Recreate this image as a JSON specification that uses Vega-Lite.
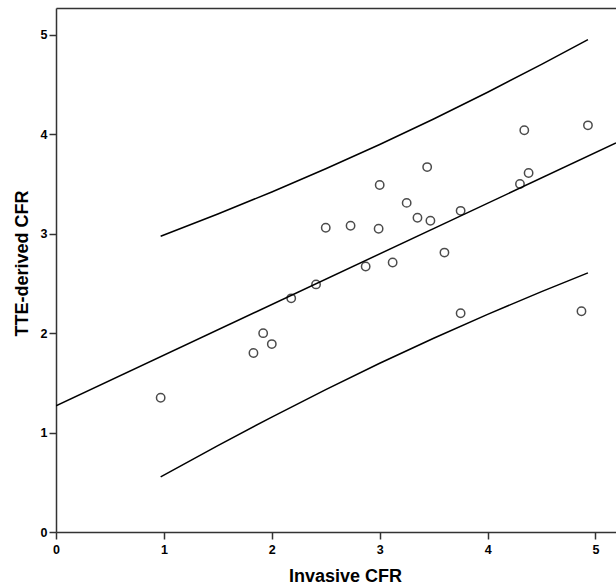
{
  "$schema": "https://vega.github.io/schema/vega-lite/v6.json",
  "width": 560,
  "height": 524,
  "autosize": {"type": "none"},
  "padding": {"left": 56, "top": 8, "right": 0, "bottom": 55},
  "background": "white",
  "config": {
    "view": {"stroke": null},
    "font": "Liberation Sans",
    "axis": {
      "grid": false,
      "domainColor": "#333333",
      "domainWidth": 1.5,
      "tickColor": "#333333",
      "tickWidth": 1.5,
      "tickSize": 7,
      "labelFont": "Liberation Sans",
      "labelFontWeight": "bold",
      "labelFontSize": 12.5,
      "labelColor": "#000000",
      "labelFlush": false,
      "titleFont": "Liberation Sans",
      "titleFontSize": 18,
      "titleFontWeight": "bold",
      "titleColor": "#000000"
    }
  },
  "datasets": {
    "lines": [
      {"series": "fit", "x": 0, "y": 1.27},
      {"series": "fit", "x": 5.19, "y": 3.912},
      {"series": "upper", "x": 0.97, "y": 2.974},
      {"series": "upper", "x": 1.5, "y": 3.198},
      {"series": "upper", "x": 2.0, "y": 3.42},
      {"series": "upper", "x": 2.5, "y": 3.653},
      {"series": "upper", "x": 3.0, "y": 3.897},
      {"series": "upper", "x": 3.5, "y": 4.154},
      {"series": "upper", "x": 4.0, "y": 4.423},
      {"series": "upper", "x": 4.5, "y": 4.703},
      {"series": "upper", "x": 4.93, "y": 4.952},
      {"series": "lower", "x": 0.97, "y": 0.554},
      {"series": "lower", "x": 1.5, "y": 0.869},
      {"series": "lower", "x": 2.0, "y": 1.156},
      {"series": "lower", "x": 2.5, "y": 1.432},
      {"series": "lower", "x": 3.0, "y": 1.697},
      {"series": "lower", "x": 3.5, "y": 1.949},
      {"series": "lower", "x": 4.0, "y": 2.189},
      {"series": "lower", "x": 4.5, "y": 2.418},
      {"series": "lower", "x": 4.93, "y": 2.606}
    ],
    "points": [
      {"x": 0.97, "y": 1.35},
      {"x": 1.83, "y": 1.80},
      {"x": 1.92, "y": 2.00},
      {"x": 2.00, "y": 1.89},
      {"x": 2.18, "y": 2.35},
      {"x": 2.41, "y": 2.49},
      {"x": 2.50, "y": 3.06},
      {"x": 2.73, "y": 3.08},
      {"x": 2.87, "y": 2.67},
      {"x": 2.99, "y": 3.05},
      {"x": 3.00, "y": 3.49},
      {"x": 3.12, "y": 2.71},
      {"x": 3.25, "y": 3.31},
      {"x": 3.35, "y": 3.16},
      {"x": 3.44, "y": 3.67},
      {"x": 3.47, "y": 3.13},
      {"x": 3.60, "y": 2.81},
      {"x": 3.75, "y": 3.23},
      {"x": 3.75, "y": 2.20},
      {"x": 4.30, "y": 3.50},
      {"x": 4.34, "y": 4.04},
      {"x": 4.38, "y": 3.61},
      {"x": 4.87, "y": 2.22},
      {"x": 4.93, "y": 4.09}
    ]
  },
  "layer": [
    {
      "data": {"name": "lines"},
      "mark": {"type": "line", "color": "#000000", "strokeWidth": 1.5, "clip": true},
      "encoding": {
        "x": {
          "field": "x", "type": "quantitative",
          "scale": {"domain": [0, 5.19], "nice": false, "zero": false},
          "axis": {
            "orient": "bottom",
            "values": [0, 1, 2, 3, 4, 5],
            "format": "d",
            "labelPadding": 4,
            "title": "Invasive CFR",
            "titleX": 289,
            "titleY": 49,
            "titleAlign": "center",
            "titleBaseline": "alphabetic"
          }
        },
        "y": {
          "field": "y", "type": "quantitative",
          "scale": {"domain": [0, 5.27], "nice": false, "zero": false},
          "axis": {
            "values": [0, 1, 2, 3, 4, 5],
            "format": "d",
            "labelPadding": 2,
            "title": "TTE-derived CFR",
            "titleX": -29,
            "titleY": 255,
            "titleAngle": -90,
            "titleAlign": "center",
            "titleBaseline": "alphabetic"
          }
        },
        "detail": {"field": "series", "type": "nominal"},
        "order": {"field": "x", "type": "quantitative"}
      }
    },
    {
      "data": {"name": "points"},
      "mark": {"type": "point", "shape": "circle", "filled": false, "stroke": "#000000", "strokeWidth": 1.5, "size": 70},
      "encoding": {
        "x": {
          "field": "x", "type": "quantitative",
          "axis": {"orient": "top", "labels": false, "ticks": false, "domain": true, "title": null}
        },
        "y": {"field": "y", "type": "quantitative"}
      }
    }
  ],
  "resolve": {"axis": {"x": "independent"}}
}
